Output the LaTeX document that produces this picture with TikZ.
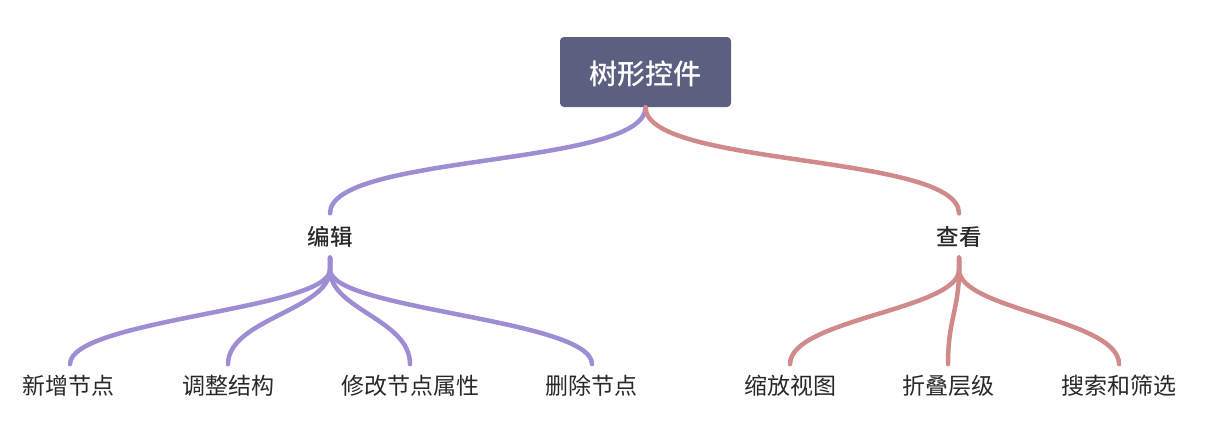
\documentclass[tikz,border=0pt]{standalone}
\usepackage{fontspec}
\setmainfont{Noto Sans CJK SC}
\newfontfamily\cjkmed{Noto Sans CJK SC Medium}
\definecolor{rootfill}{RGB}{91,95,128}
\definecolor{purp}{RGB}{157,142,212}
\definecolor{redl}{RGB}{208,138,138}
\definecolor{txt}{RGB}{40,40,40}
\begin{document}
\begin{tikzpicture}[x=1pt,y=-1pt,
  rootbox/.style={fill=rootfill,rounded corners=4pt,minimum width=171pt,minimum height=70pt,inner sep=0pt},
  roottext/.style={text=white,font=\fontsize{28}{30}\selectfont\cjkmed,inner sep=0pt},
  lvlone/.style={text=txt,font=\fontsize{22.5}{24}\selectfont\cjkmed,inner sep=0pt},
  leaf/.style={text=txt,font=\fontsize{23}{25}\selectfont,inner sep=0pt},
  conn/.style={line width=4.5pt,line cap=round}]
\useasboundingbox (0,0) rectangle (1220,426);
\node[rootbox] (r) at (645.5,72) {};
\node[roottext] (rt) at (645.5,74) {树形控件};
\node[lvlone] (e) at (330,237) {编辑};
\node[lvlone] (v) at (959,237) {查看};
\node[leaf] (c1) at (68,386) {新增节点};
\node[leaf] (c2) at (228,386) {调整结构};
\node[leaf] (c3) at (410,386) {修改节点属性};
\node[leaf] (c4) at (591,386) {删除节点};
\node[leaf] (c5) at (790,386) {缩放视图};
\node[leaf] (c6) at (948,386) {折叠层级};
\node[leaf] (c7) at (1119,386) {搜索和筛选};
% top level
\draw[conn,purp] (r.south) .. controls +(0,60) and +(0,-60) .. ([yshift=13pt]e.north);
\draw[conn,redl] (r.south) .. controls +(0,60) and +(0,-60) .. ([yshift=13pt]v.north);
% edit children
\foreach \c/\xe in {c1/70,c2/228,c3/410,c4/592}{
  \draw[conn,purp] ([yshift=-10pt]e.south) -- ([yshift=-22pt]e.south) .. controls +(0,40) and +(0,-45) .. ([yshift=11pt]\c.north -| \xe,0);
}
\foreach \c/\xe in {c5/790,c6/948,c7/1119}{
  \draw[conn,redl] ([yshift=-10pt]v.south) -- ([yshift=-22pt]v.south) .. controls +(0,40) and +(0,-45) .. ([yshift=11pt]\c.north -| \xe,0);
}
\end{tikzpicture}
\end{document}
